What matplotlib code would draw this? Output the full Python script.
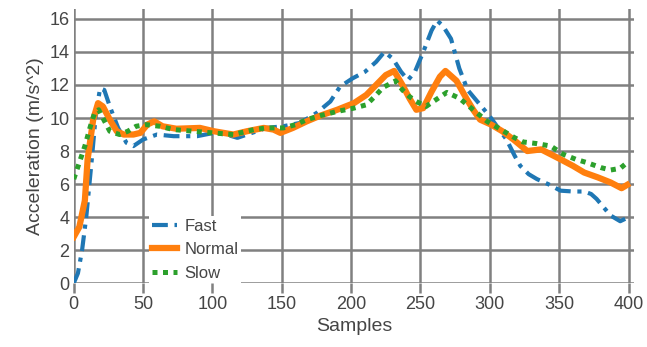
#!/usr/bin/env python3
"""
Acceleration profiles for fast / normal / slow samples
"""

import matplotlib
matplotlib.use('Agg')
import matplotlib.pyplot as plt

plt.rcParams['font.family'] = ['Liberation Sans', 'DejaVu Sans']

# Values
fast_x = [0, 3, 6, 9, 13, 16, 19, 22, 26, 32, 38, 43, 50, 60, 72, 89, 101, 110, 118, 125,
          139, 151, 163, 175, 185, 192, 201, 210, 218, 224, 230, 236, 241, 246, 252, 258,
          262, 266, 272, 278, 284, 292, 300, 306, 312, 318, 322, 328, 334, 342, 351, 360,
          368, 373, 377, 382, 387, 394, 399]
fast_y = [0.0, 0.6, 2.0, 4.0, 7.5, 10.3, 11.8, 11.7, 10.7, 9.4, 8.5, 8.3, 8.7, 9.0, 8.9, 8.9,
          9.1, 9.0, 8.8, 9.0, 9.4, 9.5, 9.7, 10.3, 11.0, 11.9, 12.4, 12.8, 13.4, 14.0, 13.6,
          12.8, 12.3, 12.8, 14.0, 15.3, 15.9, 15.6, 14.8, 13.0, 11.7, 10.9, 10.1, 9.4, 8.7,
          7.7, 7.1, 6.6, 6.3, 6.0, 5.6, 5.55, 5.55, 5.4, 5.1, 4.6, 4.1, 3.75, 3.95]

normal_x = [0, 4, 8, 10, 14, 17.5, 21, 26, 31, 36, 43, 48, 53, 58, 64, 74, 91, 101, 115, 125,
            137, 144, 149, 158, 168, 178, 190, 202, 211, 218, 225, 231, 237, 242, 247, 252,
            258, 264, 268, 276, 283, 288, 293, 301, 309, 317, 327, 337, 344, 351, 360, 368,
            378, 387, 395, 399]
normal_y = [2.8, 3.4, 5.0, 7.5, 9.9, 10.9, 10.7, 9.9, 9.2, 9.0, 9.0, 9.1, 9.6, 9.8, 9.5, 9.35,
            9.4, 9.2, 9.0, 9.2, 9.4, 9.3, 9.1, 9.4, 9.8, 10.15, 10.5, 10.9, 11.4, 12.0, 12.6,
            12.85, 12.0, 11.2, 10.5, 10.6, 11.6, 12.5, 12.85, 12.25, 11.2, 10.5, 9.9, 9.6,
            9.2, 8.7, 8.0, 8.1, 7.8, 7.5, 7.1, 6.7, 6.4, 6.1, 5.75, 5.95]

slow_x = [0, 4, 8, 12, 15, 18, 21, 26, 33, 39, 45, 52, 62, 72, 100, 115, 130, 139, 151, 160,
          168, 178, 190, 202, 211, 217, 223, 232, 237, 242, 247, 254, 261, 269, 278, 288, 298,
          305, 312, 318, 324, 334, 344, 353, 362, 370, 380, 387, 394, 399]
slow_y = [6.3, 7.3, 8.3, 9.5, 10.3, 10.5, 10.0, 9.2, 9.0, 9.2, 9.5, 9.6, 9.5, 9.3, 9.1, 9.0,
          9.3, 9.4, 9.4, 9.6, 9.9, 10.15, 10.4, 10.6, 10.8, 11.3, 11.85, 12.25, 11.7, 11.3,
          11.0, 10.7, 11.1, 11.55, 11.2, 10.5, 9.8, 9.45, 9.1, 8.8, 8.55, 8.45, 8.3, 7.8, 7.5,
          7.3, 7.0, 6.85, 6.95, 7.3]

x_ticks = [0, 50, 100, 150, 200, 250, 300, 350, 400]
y_ticks = [0, 2, 4, 6, 8, 10, 12, 14, 16]

text_color = '#454545'
grid_color = '#808080'

fig = plt.figure(figsize=(6.47, 3.47), dpi=100)
ax = fig.add_axes([0.114, 0.184, 0.866, 0.790])

ax.plot(fast_x, fast_y, color='#1f77b4', lw=3.0, dashes=[3.8, 1.6, 1.0, 1.6],
        dash_capstyle='butt', label='Fast', zorder=3)
ax.plot(normal_x, normal_y, color='#ff7f0e', lw=4.5, solid_joinstyle='round',
        label='Normal', zorder=3)
ax.plot(slow_x, slow_y, color='#2ca02c', lw=3.6, dashes=[1.0, 1.1],
        dash_capstyle='butt', label='Slow', zorder=3)

ax.set_xlim(0, 404)
ax.set_ylim(0, 16.6)
ax.set_xticks(x_ticks)
ax.set_yticks(y_ticks)

ax.grid(True, color=grid_color, lw=1.8)
ax.set_axisbelow(True)
for sp in ax.spines.values():
    sp.set_visible(False)
ax.tick_params(axis='both', colors=grid_color, width=1.8, length=7,
               labelsize=13, labelcolor=text_color)
ax.tick_params(axis='y', length=0, pad=3)
ax.tick_params(axis='x', pad=2)

ax.set_xlabel('Samples', fontsize=14, color=text_color, labelpad=4)
ax.set_ylabel('Acceleration (m/s^2)', fontsize=14, color=text_color, labelpad=4)

leg = ax.legend(loc='lower left', bbox_to_anchor=(0.135, 0.0), fontsize=12,
                frameon=True, fancybox=False, framealpha=1.0, borderaxespad=0.0,
                handlelength=1.5, handletextpad=0.45, labelspacing=0.5,
                borderpad=0.15)
leg.get_frame().set_edgecolor('none')
for t in leg.get_texts():
    t.set_color(text_color)

fig.savefig('out.png', dpi=100, facecolor='white')
